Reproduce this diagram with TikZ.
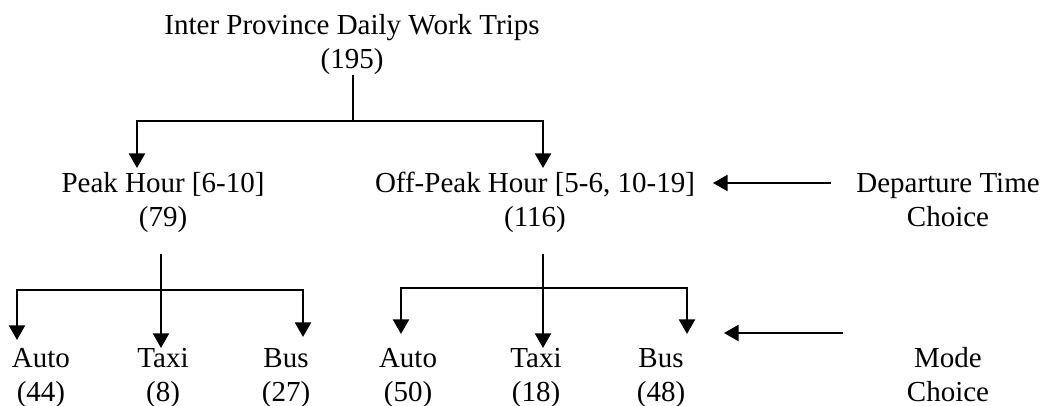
\documentclass[tikz,border=0pt]{standalone}
\usepackage{fontspec}
\setmainfont{Liberation Serif}
\usetikzlibrary{arrows.meta}
\newcommand\twolines[2]{\strut#1\\\strut#2}
\begin{document}
\begin{tikzpicture}[x=0.75pt,y=-0.75pt,
  lbl/.style={font=\fontsize{21.75}{25.5}\selectfont, align=center, inner sep=0pt},
  conn/.style={line width=1.8pt},
  arr/.style={conn,-{Triangle[length=11pt,width=12pt]}}]
\useasboundingbox (0,0) rectangle (1045,406);
% nodes
\node[lbl] (title) at (352,45) {\twolines{Inter Province Daily Work Trips}{(195)}};
\node[lbl] (peak) at (163,202.5) {\twolines{Peak Hour [6-10]}{(79)}};
\node[lbl] (off) at (535,202.5) {\twolines{Off-Peak Hour [5-6, 10-19]}{(116)}};
\node[lbl] (dep) at (948,202.5) {\twolines{Departure Time}{Choice}};
\node[lbl] (pauto) at (41,378) {\twolines{Auto}{(44)}};
\node[lbl] (ptaxi) at (163,378) {\twolines{Taxi}{(8)}};
\node[lbl] (pbus) at (286,378) {\twolines{Bus}{(27)}};
\node[lbl] (oauto) at (408,378) {\twolines{Auto}{(50)}};
\node[lbl] (otaxi) at (536,378) {\twolines{Taxi}{(18)}};
\node[lbl] (obus) at (661,378) {\twolines{Bus}{(48)}};
\node[lbl] (mode) at (948,378) {\twolines{Mode}{Choice}};
% coordinates
\coordinate (j0) at (353,121);
\coordinate (s0) at (353,75);
\coordinate (tpeak) at (137,168);
\coordinate (toff) at (543,168);
\coordinate (sp) at (161,254);
\coordinate (jp) at (161,290);
\coordinate (tpauto) at (17,340);
\coordinate (tptaxi) at (161,348);
\coordinate (tpbus) at (303,337);
\coordinate (so) at (543,254);
\coordinate (jo) at (543,288);
\coordinate (toauto) at (401,334);
\coordinate (totaxi) at (543,348);
\coordinate (tobus) at (687,334);
\coordinate (da) at (831,183);
\coordinate (db) at (713,183);
\coordinate (ma) at (843,333);
\coordinate (mb) at (724,333);
% connectors
\draw[conn] (s0) -- (j0);
\draw[arr] (j0) -| (tpeak);
\draw[arr] (j0) -| (toff);
\draw[arr] (sp) -- (tptaxi);
\draw[arr] (jp) -| (tpauto);
\draw[arr] (jp) -| (tpbus);
\draw[arr] (so) -- (totaxi);
\draw[arr] (jo) -| (toauto);
\draw[arr] (jo) -| (tobus);
\draw[arr] (da) -- (db);
\draw[arr] (ma) -- (mb);
\end{tikzpicture}
\end{document}
